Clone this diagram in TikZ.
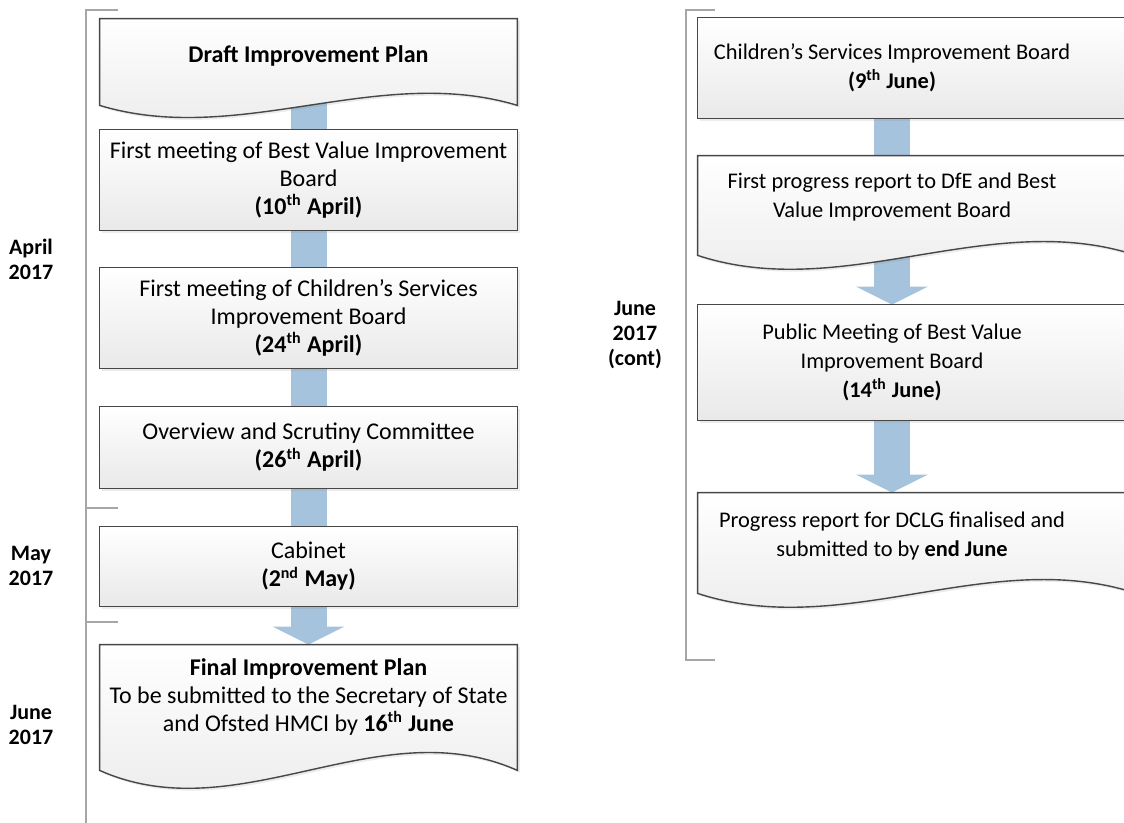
\documentclass[tikz,border=0pt]{standalone}
\usepackage{fontspec}
\setmainfont{Carlito}
\usetikzlibrary{arrows.meta,calc,shadows}

\definecolor{framegrey}{HTML}{474747}
\definecolor{shadegrey}{HTML}{E9E9E9}
\definecolor{flowblue}{HTML}{A6C3DE}
\definecolor{bracketgrey}{HTML}{A6A6A6}

\pgfdeclarelayer{arrowlayer}
\pgfdeclarelayer{framelayer}
\pgfsetlayers{arrowlayer,framelayer,main}

\tikzstyle{stage} = [align=center, inner sep=2pt]
\tikzstyle{leftstage} = [stage, minimum width=208.5pt, font=\fontsize{12}{14}\selectfont]
\tikzstyle{rightstage} = [stage, minimum width=194pt, font=\fontsize{11.2}{14.5}\selectfont]
\tikzstyle{frame} = [draw=framegrey, line width=0.7pt, top color=white, bottom color=shadegrey,
    drop shadow={shadow xshift=1.2pt, shadow yshift=-1.2pt, opacity=0.15}]
\tikzstyle{month} = [align=center, font=\fontsize{11}{12.5}\selectfont\bfseries]
\tikzstyle{bracket} = [draw=bracketgrey, line width=0.8pt]
\tikzstyle{shaft} = [draw=flowblue, line width=18pt]
\tikzstyle{blockarrow} = [shaft, -{Triangle[width=36pt, length=9pt, line width=0pt]}]

\newcommand{\plainframe}[2][0pt]{%
  \draw[frame] (#2.north west) rectangle ([xshift=#1]#2.south east);}
\newcommand{\waveframe}[4][0pt]{%
  \draw[frame] (#2.north west) -- ([xshift=#1]#2.north east)
    -- ([xshift=#1, yshift=-#3]#2.south east)
    .. controls ($([xshift=#1, yshift=-#3]#2.south east)!1/3!([yshift=-#3]#2.south west) + (0pt,#4)$)
       and ($([xshift=#1, yshift=-#3]#2.south east)!2/3!([yshift=-#3]#2.south west) - (0pt,#4)$)
    .. ([yshift=-#3]#2.south west) -- cycle;}

\begin{document}
\begin{tikzpicture}[x=0.5pt, y=-0.5pt]
\useasboundingbox (0,0) rectangle (1124,823);

\draw[bracket] (118,10) -- (86,10) -- (86,823);
\draw[bracket] (86,508) -- (118,508);
\draw[bracket] (86,622) -- (118,622);
\draw[bracket] (715,10) -- (686,10) -- (686,660) -- (715,660);

\node[month] (april) at (31,259) {April\\2017};
\node[month] (may) at (31,566) {May\\2017};
\node[month] (june) at (31,725) {June\\2017};
\node[month] (junecont) at (635,335) {June\\2017\\(cont)};

\node[leftstage, minimum height=37pt] (draft) at (308.5,56) {\textbf{Draft Improvement Plan}};
\node[leftstage, minimum height=50pt] (bvib) at (308.5,180)
    {First meeting of Best Value Improvement\\Board\\\textbf{(10\textsuperscript{th} April)}};
\node[leftstage, minimum height=50pt] (csib) at (308.5,318)
    {First meeting of Children’s Services\\Improvement Board\\\textbf{(24\textsuperscript{th} April)}};
\node[leftstage, minimum height=40.5pt] (scrutiny) at (308.5,447.5)
    {Overview and Scrutiny Committee\\\textbf{(26\textsuperscript{th} April)}};
\node[leftstage, minimum height=39.5pt] (cabinet) at (308.5,566.5)
    {Cabinet\\\textbf{(2\textsuperscript{nd} May)}};
\node[leftstage, minimum height=52pt] (final) at (308.5,697)
    {\textbf{Final Improvement Plan}\\To be submitted to the Secretary of State\\and Ofsted HMCI by \textbf{16\textsuperscript{th} June}};

\node[rightstage, minimum height=50pt] (csboard) at (892,68)
    {Children’s Services Improvement Board\\\textbf{(9\textsuperscript{th} June)}};
\node[rightstage, minimum height=41.5pt] (firstreport) at (892,197.5)
    {First progress report to DfE and Best\\Value Improvement Board};
\node[rightstage, minimum height=57.5pt] (publicmeeting) at (892,362.5)
    {Public Meeting of Best Value\\Improvement Board\\\textbf{(14\textsuperscript{th} June)}};
\node[rightstage, minimum height=43pt] (dclg) at (892,536)
    {Progress report for DCLG finalised and\\submitted to by \textbf{end June}};

\begin{pgfonlayer}{framelayer}
\waveframe{draft}{6pt}{21pt}
\plainframe{bvib}
\plainframe{csib}
\plainframe{scrutiny}
\plainframe{cabinet}
\waveframe{final}{10.5pt}{31pt}
\plainframe[25pt]{csboard}
\waveframe[25pt]{firstreport}{8pt}{24pt}
\plainframe[25pt]{publicmeeting}
\waveframe[25pt]{dclg}{7pt}{24pt}
\end{pgfonlayer}

\begin{pgfonlayer}{arrowlayer}
\draw[shaft] (draft) -- (bvib);
\draw[shaft] (bvib) -- (csib);
\draw[shaft] (csib) -- (scrutiny);
\draw[shaft] (scrutiny) -- (cabinet);
\draw[blockarrow] (cabinet) -- (final.north);
\draw[shaft] (csboard) -- (firstreport);
\draw[blockarrow] (firstreport) -- (publicmeeting.north);
\draw[blockarrow] (publicmeeting) -- (dclg.north);
\end{pgfonlayer}
\end{tikzpicture}
\end{document}
